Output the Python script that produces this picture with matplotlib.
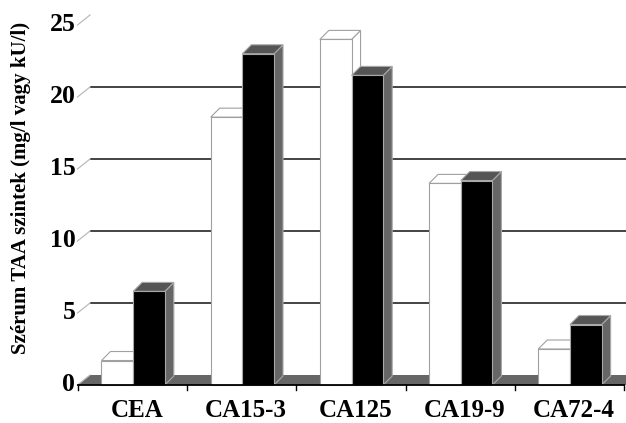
import matplotlib
matplotlib.use("Agg")
import matplotlib.pyplot as plt
from matplotlib.patches import Polygon

categories = ["CEA", "CA15-3", "CA125", "CA19-9", "CA72-4"]
series_white = [1.7, 18.6, 24.0, 14.0, 2.5]
series_black = [6.5, 23.0, 21.5, 14.2, 4.2]
y_ticks = [0, 5, 10, 15, 20, 25]
y_label = "Szérum TAA szintek (mg/l vagy kU/l)"

W, H = 626, 423
fig = plt.figure(figsize=(W / 100, H / 100), dpi=100)
fig.patch.set_facecolor("white")

x0_px, x1_px = 78, 624
y0_px, ytop_px = 385, 25
ax = fig.add_axes([x0_px / W, (H - y0_px) / H, (x1_px - x0_px) / W, (y0_px - ytop_px) / H])
ax.set_xlim(0, len(categories))
ax.set_ylim(0, 25)
ax.axis("off")

px_x = len(categories) / (x1_px - x0_px)   # data units per pixel (x)
px_y = 25 / (y0_px - ytop_px)             # data units per pixel (y)

wall_dx, wall_dy = 12 * px_x, 10 * px_y
bar_dx, bar_dy = 9 * px_x, 9 * px_y
bw = 0.29

serif = ["Liberation Serif", "DejaVu Serif"]

# floor
n = len(categories)
floor = Polygon([(0, 0), (n + 0.2, 0), (n + 0.2 + wall_dx, wall_dy), (wall_dx, wall_dy)],
                closed=True, facecolor="#666666", edgecolor="none", zorder=1, clip_on=False)
ax.add_patch(floor)

# gridlines & tick strokes
for v in y_ticks:
    if 0 < v < 25:
        ax.plot([wall_dx, n + 0.1], [v + wall_dy, v + wall_dy], color="#111111", lw=1.1,
                zorder=2, clip_on=False, solid_capstyle="butt")
    ax.plot([-0.005, wall_dx], [v, v + wall_dy], color="#bbbbbb", lw=0.9, zorder=2, clip_on=False)
    ax.text(-0.025, v + 0.05, str(v), ha="right", va="center", fontsize=18.5, fontweight="bold",
            family=serif, color="black")


def bar3d(xl, h, front, top, side, edge):
    xr = xl + bw
    ax.add_patch(Polygon([(xr, 0), (xr + bar_dx, bar_dy), (xr + bar_dx, h + bar_dy), (xr, h)],
                         closed=True, facecolor=side, edgecolor=edge, lw=0.8, zorder=4, clip_on=False))
    ax.add_patch(Polygon([(xl, h), (xr, h), (xr + bar_dx, h + bar_dy), (xl + bar_dx, h + bar_dy)],
                         closed=True, facecolor=top, edgecolor=edge, lw=0.8, zorder=4, clip_on=False))
    ax.add_patch(Polygon([(xl, 0), (xr, 0), (xr, h), (xl, h)],
                         closed=True, facecolor=front, edgecolor=edge, lw=0.8, zorder=4, clip_on=False))


for i, cat in enumerate(categories):
    c = i + 0.5
    bar3d(c - bw + 0.005, series_white[i], "white", "white", "white", "#a0a0a0")
    bar3d(c + 0.005, series_black[i], "black", "#555555", "#666666", "#a8a8a8")
    ax.text(c + 0.04, -1.78, cat, ha="center", va="center", fontsize=18, fontweight="bold",
            family=serif, color="black")

# front axis line and ticks
ax.plot([0, n], [0, 0], color="black", lw=1.3, zorder=5, clip_on=False)
for i in range(n + 1):
    ax.plot([i, i], [0, -0.35], color="black", lw=1.0, zorder=5, clip_on=False)

fig.text(21 / W, 1 - 188 / H, y_label, rotation=90, ha="center", va="center",
         fontsize=15, fontweight="bold", family=serif, color="black")

fig.savefig("out.png", dpi=100, facecolor="white")
